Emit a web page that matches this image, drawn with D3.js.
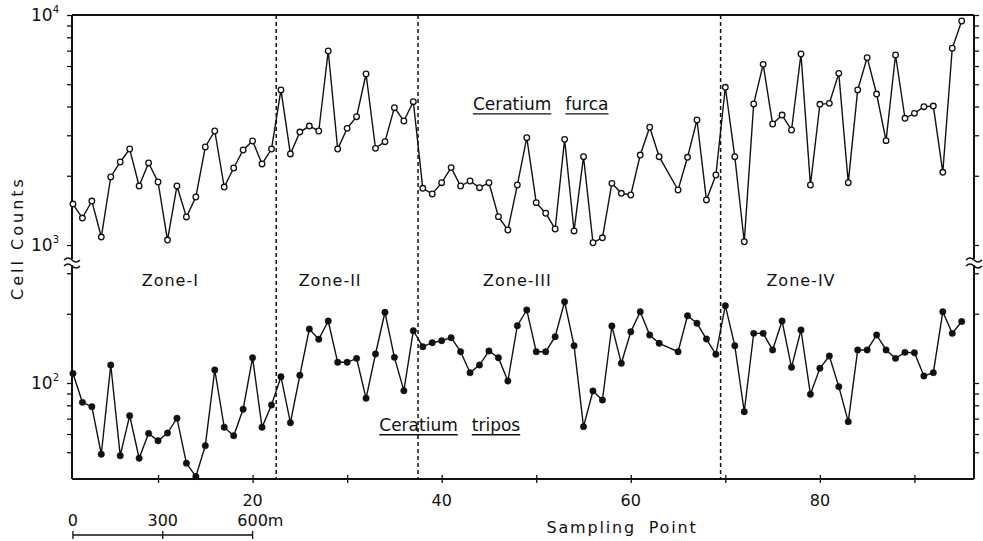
<!DOCTYPE html>
<html>
<head>
<meta charset="utf-8">
<script src="https://cdn.jsdelivr.net/npm/d3@7"></script>
<style>
  body { margin: 0; background: #fff; }
  svg { display: block; font-family: "DejaVu Sans", sans-serif; fill: #111; }
</style>
</head>
<body>
<svg id="chart" width="983" height="541"></svg>
<script>
// Ceratium furca (open circles), cells per sampling point 1..95 (64 not sampled)
const furca = [
  1507, 1310, 1553, 1083, 1976, 2296, 2614, 1805, 2274, 1879,
  1051, 1805, 1324, 1617, 2667, 3131, 1786, 2162, 2588, 2833,
  2251, 2614, 4721, 2488, 3098, 3290, 3131, 6973, 2614, 3215,
  3612, 5539, 2632, 2813, 3954, 3461, 4198, 1764, 1667, 1866,
  2170, 1805, 1898, 1775, 1866, 1328, 1162, 1823, 2929, 1528,
  1374, 1174, 2880, 1151, 2421, 1023, 1075, 1854, 1678, 1650,
  2461, 3250, 2421, null, 1734, 2406, 3495, 1570, 2015, 4850,
  2421, 1033, 4104, 6100, 3358, 3673, 3162, 6766, 1823, 4090,
  4130, 5576, 1866, 4721, 6524, 4533, 2842, 6700, 3556, 3736,
  3993, 4020, 2071, 7167, 9417
]

// Ceratium tripos (filled circles)
const tripos = [
  110, 82.4, 78.9, 49.0, 119.7, 48.3, 72.1, 47.1, 60.4, 56.1,
  60.6, 70.3, 44.8, 39.2, 53.4, 114, 64.2, 59.0, 76.9, 128.8,
  64.2, 80.2, 106.5, 67.2, 108, 171.7, 155, 186, 123, 123,
  128, 85.8, 133.7, 203, 129.3, 92.6, 168.8, 143.8, 149.7, 152.7,
  157.4, 136.8, 110.9, 119.7, 137.8, 128.8, 102, 177.5, 207.7, 136.8,
  136.8, 159, 225.6, 145.3, 64.6, 92.3, 84.3, 177, 121.8, 167,
  204, 161.7, 148.8, null, 136.8, 196, 181.8, 155.3, 133.3, 216.8,
  145.3, 75, 164.4, 164.4, 139.2, 186, 117, 170, 89.3, 115.9,
  131, 96.4, 67.9, 139.2, 139.2, 161.7, 139.2, 128, 135.9, 135.4,
  107.3, 110.9, 204, 164.4, 185
]

const xTicks = [10, 20, 30, 40, 50, 60, 70, 80, 90]
const xTickLabels = [20, 40, 60, 80]
const zoneBounds = [22.5, 37.5, 69.5]
const zoneNames = ["Zone-I", "Zone-II", "Zone-III", "Zone-IV"]
const zoneLabelAt = [11.3, 28.2, 48, 78]
const upperTicks = [1000, 2000, 3000, 4000, 5000, 6000, 7000, 8000, 9000, 10000]
const lowerTicks = [50, 60, 70, 80, 90, 100, 200, 300]
const powerLabels = [[10000, "4", "upper"], [1000, "3", "upper"], [100, "2", "lower"]]
const scaleBarMeters = [0, 300, 600]
const scaleBarLabels = ["0", "300", "600m"]

const config = {
  left: 72, right: 974, top: 15, bottom: 479,
  breakY: 262
}

const svg = d3.select("#chart")

const x = d3.scaleLinear().domain([0.9, 96.3]).range([config.left, config.right])
const yU = d3.scaleLog().domain([1000, 10000]).range([245, 15])
const yL = d3.scaleLog().domain([100, 1000]).range([383, 153])

const ink = "#111"

// zone dividers
svg.append("g")
  .selectAll("line")
  .data(zoneBounds)
  .join("line")
    .attr("x1", d => x(d)).attr("x2", d => x(d))
    .attr("y1", config.top).attr("y2", config.bottom)
    .attr("stroke", ink)
    .attr("stroke-width", 1.5)
    .attr("stroke-dasharray", "4,3")

// frame: top line
svg.append("line")
  .attr("x1", config.left).attr("x2", config.right)
  .attr("y1", config.top).attr("y2", config.top)
  .attr("stroke", ink).attr("stroke-width", 2.2)

// vertical axes broken at breakY
function axisLine(xPos) {
  const g = svg.append("g")
  g.append("line")
    .attr("x1", xPos).attr("x2", xPos)
    .attr("y1", config.top).attr("y2", config.breakY - 3)
    .attr("stroke", ink).attr("stroke-width", 2)
  g.append("line")
    .attr("x1", xPos).attr("x2", xPos)
    .attr("y1", config.breakY + 3).attr("y2", config.bottom)
    .attr("stroke", ink).attr("stroke-width", 2)
  ;[-3, 3].forEach(off => {
    const y0 = config.breakY + off
    g.append("path")
      .attr("d", `M${xPos - 8},${y0 + 1} q4,-4 8,0 t8,0`)
      .attr("fill", "none").attr("stroke", ink).attr("stroke-width", 1.5)
  })
}
axisLine(config.left)
axisLine(config.right)

function yTicks(scale, values, side) {
  const axis = side === "left" ? d3.axisLeft(scale) : d3.axisRight(scale)
  const xPos = side === "left" ? config.left : config.right
  const g = svg.append("g")
    .attr("transform", "translate(" + xPos + ",0)")
    .call(axis.tickValues(values).tickSize(5).tickFormat(""))
  g.select(".domain").remove()
  g.selectAll(".tick line").attr("stroke", ink).attr("stroke-width", 1.3)
}
yTicks(yU, upperTicks, "left")
yTicks(yL, lowerTicks, "left")
yTicks(yU, upperTicks, "right")
yTicks(yL, lowerTicks, "right")

// x axis
const xAxisG = svg.append("g")
  .attr("transform", "translate(0," + config.bottom + ")")
  .call(d3.axisBottom(x).tickValues(xTicks).tickSize(4).tickFormat(""))
xAxisG.select(".domain").remove()
xAxisG.selectAll(".tick line").attr("y1", -4).attr("y2", 4).attr("stroke", ink).attr("stroke-width", 1.3)
svg.append("line")
  .attr("x1", config.left).attr("x2", config.right)
  .attr("y1", config.bottom).attr("y2", config.bottom)
  .attr("stroke", ink).attr("stroke-width", 2)

svg.append("g")
  .selectAll("text")
  .data(xTickLabels)
  .join("text")
    .attr("x", d => x(d)).attr("y", 506)
    .attr("text-anchor", "middle")
    .attr("font-size", 16)
    .text(d => d)

// power-of-ten labels
const pl = svg.append("g")
  .selectAll("text")
  .data(powerLabels)
  .join("text")
    .attr("x", 59)
    .attr("y", d => (d[2] === "upper" ? yU(d[0]) : yL(d[0])) + 6)
    .attr("text-anchor", "end")
    .attr("font-size", 17)
pl.append("tspan").text("10")
pl.append("tspan").attr("font-size", 10).attr("dy", -8).text(d => d[1])

// axis titles
svg.append("text")
  .attr("transform", "translate(17,238) rotate(-90)")
  .attr("text-anchor", "middle")
  .attr("dominant-baseline", "central")
  .attr("font-size", 16)
  .attr("letter-spacing", 3)
  .text("Cell Counts")

svg.append("text")
  .attr("x", 622).attr("y", 533)
  .attr("text-anchor", "middle")
  .attr("font-size", 16)
  .attr("letter-spacing", 1.8)
  .attr("word-spacing", 6)
  .text("Sampling Point")

// zone labels
svg.append("g")
  .selectAll("text")
  .data(zoneNames)
  .join("text")
    .attr("x", (d, i) => x(zoneLabelAt[i]))
    .attr("y", 286)
    .attr("text-anchor", "middle")
    .attr("font-size", 16)
    .attr("letter-spacing", 1)
    .text(d => d)

// species labels, each word underlined
function speciesLabel(words, xStart, yBase) {
  let cx = xStart
  words.forEach(w => {
    const t = svg.append("text")
      .attr("x", cx).attr("y", yBase)
      .attr("font-size", 17)
      .text(w)
    const len = t.node().getComputedTextLength()
    svg.append("line")
      .attr("x1", cx).attr("x2", cx + len)
      .attr("y1", yBase + 4).attr("y2", yBase + 4)
      .attr("stroke", ink).attr("stroke-width", 1.3)
    cx += len + 14
  })
}
speciesLabel(["Ceratium", "furca"], x(43.3), yU(3870))
speciesLabel(["Ceratium", "tripos"], x(33.4), yL(62))

// series
function drawSeries(values, scale, open) {
  const pts = values
    .map((v, i) => ({ p: i + 1, v: v }))
    .filter(d => d.v != null)
  const line = d3.line().x(d => x(d.p)).y(d => scale(d.v))
  const g = svg.append("g")
  g.append("path")
    .datum(pts)
    .attr("d", line)
    .attr("fill", "none")
    .attr("stroke", ink)
    .attr("stroke-width", 1.4)
  g.selectAll("circle")
    .data(pts)
    .join("circle")
      .attr("cx", d => x(d.p))
      .attr("cy", d => scale(d.v))
      .attr("r", open ? 2.8 : 3.2)
      .attr("fill", open ? "#fff" : ink)
      .attr("stroke", ink)
      .attr("stroke-width", open ? 1.3 : 0.5)
}
drawSeries(furca, yU, true)
drawSeries(tripos, yL, false)

// distance scale bar
const m = d3.scaleLinear().domain([0, 600]).range([x(1), x(20)])
const sb = svg.append("g")
sb.append("line")
  .attr("x1", m(0)).attr("x2", m(600))
  .attr("y1", 535).attr("y2", 535)
  .attr("stroke", ink).attr("stroke-width", 1.3)
sb.selectAll(".sbtick")
  .data(scaleBarMeters)
  .join("line")
    .attr("class", "sbtick")
    .attr("x1", d => m(d)).attr("x2", d => m(d))
    .attr("y1", 531).attr("y2", 539)
    .attr("stroke", ink).attr("stroke-width", 1.3)
sb.selectAll("text")
  .data(scaleBarMeters)
  .join("text")
    .attr("x", d => m(d)).attr("y", 526)
    .attr("font-size", 16)
    .text((d, i) => scaleBarLabels[i])
    .each(function(d, i) {
      const digits = String(d).length
      const w = this.getSubStringLength(0, digits)
      d3.select(this).attr("x", m(d) - w / 2)
    })
</script>
</body>
</html>
